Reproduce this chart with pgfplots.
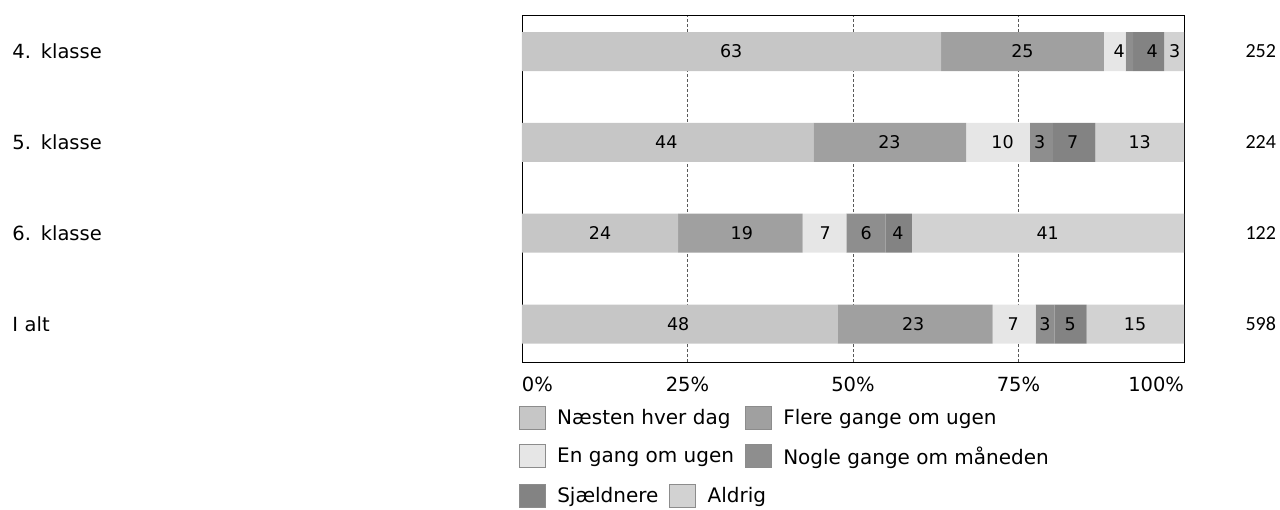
\documentclass[border=0pt]{standalone}
\usepackage{fontspec}
\setmainfont{DejaVu Sans}
\newfontfamily\carlito{Carlito}
\usepackage{pgfplots}
\pgfplotsset{compat=1.18}
\definecolor{cA}{HTML}{C6C6C6}
\definecolor{cB}{HTML}{A0A0A0}
\definecolor{cC}{HTML}{E6E6E6}
\definecolor{cD}{HTML}{8E8E8E}
\definecolor{cE}{HTML}{838383}
\definecolor{cF}{HTML}{D2D2D2}
\begin{document}
\begin{tikzpicture}[x=1pt,y=1pt]
\path[use as bounding box] (0,0) rectangle (1280,509);
\pgfplotsset{
  base/.style={at={(522pt,147pt)}, anchor=south west, scale only axis,
    width=662pt, height=347pt, xmin=0, xmax=100, ymin=-0.418, ymax=3.402, clip=false},
  boxleg/.style={legend image code/.code={\draw[##1, draw=black!45, line width=0.5pt] (0pt,-11.5pt) rectangle (26pt,11.5pt); \path (33pt,0pt);}},
  legstyle/.style={
    legend columns=2, legend cell align=left, boxleg,
    legend style={draw=none, fill=none, inner sep=0pt, outer sep=0pt,
      font=\fontsize{20}{24}\selectfont, row sep=11pt,
      nodes={inner sep=5pt},
      /tikz/every even column/.append style={column sep=6pt}}
  }
}
\begin{axis}[base,
  xbar stacked, bar width=39pt, legstyle,
  ytick={0,1,2,3}, yticklabels={I alt,6. klasse,5. klasse,4. klasse},
  yticklabel style={font=\fontsize{19.5}{23}\selectfont, text width=506pt, align=left},
  major tick length=0pt,
  xtick={0,25,50,75,100},
  xticklabels={\makebox[0pt][l]{0\%},25\%,50\%,75\%,\makebox[0pt][r]{100\%}},
  xticklabel style={font=\fontsize{19.5}{23}\selectfont, yshift=-11pt},
  xmajorgrids, major grid style={densely dashed, black!65, line width=0.6pt},
  axis line style={black, line width=0.8pt},
  legend style={at={(rel axis cs:0,0)}, anchor=north west, xshift=-3pt, yshift=-42pt},
]
\addplot[fill=cA, draw=none, boxleg] coordinates {(63.3,3) (44.0,2) (23.6,1) (47.7,0)};
\addlegendentry{Næsten hver dag}
\addplot[fill=cB, draw=none, boxleg] coordinates {(24.6,3) (23.1,2) (18.8,1) (23.4,0)};
\addlegendentry{Flere gange om ugen}
\addplot[fill=cC, draw=none, boxleg] coordinates {(3.3,3) (9.6,2) (6.6,1) (6.5,0)};
\addlegendentry{En gang om ugen}
\addplot[fill=cD, draw=none, boxleg] coordinates {(1.1,3) (3.5,2) (5.9,1) (2.8,0)};
\addlegendentry{Nogle gange om måneden}
\addplot[fill=cE, draw=none] coordinates {(4.7,3) (6.4,2) (4.0,1) (4.9,0)};
\addplot[fill=cF, draw=none] coordinates {(3.0,3) (13.4,2) (41.1,1) (14.7,0)};
\end{axis}
\begin{axis}[base, hide axis, legstyle,
  legend style={at={(rel axis cs:0,0)}, anchor=north west, xshift=-3pt, yshift=-120pt},
]
\addplot[forget plot, only marks, mark=*, mark size=0pt, mark options={draw=none, fill=none},
  nodes near coords, point meta=explicit symbolic,
  every node near coord/.style={anchor=center, text=black, font=\fontsize{17.5}{21}\selectfont}]
  table[meta=l] {
x y l
31.6 3 63
75.6 3 25
90.2 3 4
95.2 3 4
98.6 3 3
21.8 2 44
55.5 2 23
72.6 2 10
78.2 2 3
83.2 2 7
93.3 2 13
11.8 1 24
33.2 1 19
45.8 1 7
52.0 1 6
56.8 1 4
79.4 1 41
23.6 0 48
59.1 0 23
74.2 0 7
79.0 0 3
82.8 0 5
92.6 0 15
};
\node[font=\carlito\fontsize{20}{24}\selectfont] at (axis cs:111.6,3) {252};
\node[font=\carlito\fontsize{20}{24}\selectfont] at (axis cs:111.6,2) {224};
\node[font=\carlito\fontsize{20}{24}\selectfont] at (axis cs:111.6,1) {122};
\node[font=\carlito\fontsize{20}{24}\selectfont] at (axis cs:111.6,0) {598};
\addlegendimage{fill=cE, draw=none}
\addlegendentry{Sjældnere}
\addlegendimage{fill=cF, draw=none}
\addlegendentry{Aldrig}
\end{axis}
\end{tikzpicture}
\end{document}
